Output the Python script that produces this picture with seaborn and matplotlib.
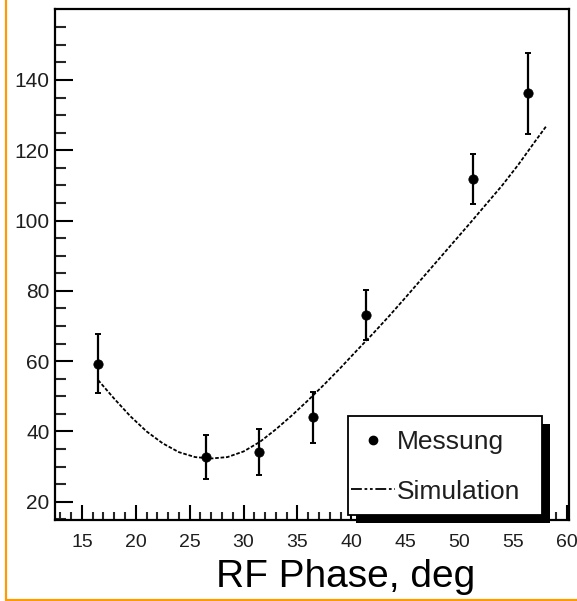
import numpy as np
import pandas as pd
import matplotlib
matplotlib.use("Agg")
import matplotlib.pyplot as plt
from matplotlib.lines import Line2D
from matplotlib.patches import Rectangle
import seaborn as sns

# --- data ---
meas_phase = [16.5, 26.5, 31.4, 36.4, 41.4, 51.3, 56.4]
meas_value = [59.2, 32.7, 34.1, 44.0, 73.1, 111.7, 136.2]
meas_err = [8.4, 6.3, 6.6, 7.2, 7.0, 7.1, 11.6]

sim_phase = [16.5, 18, 19.5, 21, 22.5, 24, 25.5, 27, 28.5, 30, 31.5, 33, 34.5,
             36, 37.5, 39, 40.5, 42, 43.5, 45, 46.5, 48, 49.5, 51, 52.5, 54,
             55.5, 57, 58.1]
sim_value = [54.6, 49.3, 44.3, 40.0, 36.6, 34.1, 32.7, 32.3, 32.7, 34.3, 37.0,
             40.6, 44.6, 48.9, 53.4, 58.1, 63.0, 67.8, 72.8, 78.0, 83.3, 88.6,
             93.9, 99.2, 104.6, 110.0, 115.9, 122.3, 126.9]

x_ticks = [15, 20, 25, 30, 35, 40, 45, 50, 55, 60]
y_ticks = [20, 40, 60, 80, 100, 120, 140]
x_label = "RF Phase, deg"
legend_labels = ["Messung", "Simulation"]

sns.set_theme(style="white")
plt.rcParams['font.family'] = ['Liberation Sans', 'DejaVu Sans']

W, H = 577, 601
fig = plt.figure(figsize=(W / 100, H / 100), dpi=100)
ax = fig.add_axes([55 / W, 1 - 520 / H, (569 - 55) / W, (520 - 9.3) / H])

sim_df = pd.DataFrame({"phase": sim_phase, "value": sim_value})
sns.lineplot(data=sim_df, x="phase", y="value", ax=ax, color="black",
             lw=1.3, linestyle=(0, (2.0, 1.0)), legend=False)

ax.errorbar(meas_phase, meas_value, yerr=meas_err, fmt="none", ecolor="black",
            elinewidth=1.6, capsize=2.5, capthick=1.4, zorder=3)
meas_df = pd.DataFrame({"phase": meas_phase, "value": meas_value})
sns.scatterplot(data=meas_df, x="phase", y="value", ax=ax, color="black", s=45,
                edgecolor="black", zorder=4, legend=False)

ax.set_xlim(12.5, 60.2)
ax.set_ylim(14.8, 160.1)
ax.set_xticks(x_ticks)
ax.set_yticks(y_ticks)
ax.set_xticks(np.arange(13, 61, 1), minor=True)
ax.set_yticks(np.arange(15, 160, 5), minor=True)
ax.set_xlabel("")
ax.set_ylabel("")

for s in ax.spines.values():
    s.set_color("black")
    s.set_linewidth(1.6)

ax.tick_params(axis="y", which="major", direction="in", length=13, width=1.5,
               labelsize=15, pad=4, colors="black", labelcolor="#1e1e1e", left=True)
ax.tick_params(axis="y", which="minor", direction="in", length=8, width=1.5, left=True)
ax.tick_params(axis="x", which="major", direction="in", length=11, width=1.5,
               labelsize=14, pad=10, colors="black", labelcolor="#1e1e1e", bottom=True)
ax.tick_params(axis="x", which="minor", direction="in", length=6, width=1.5, bottom=True)

# legend box with black drop shadow
lx0, lx1, ly0, ly1 = 348, 542, 416, 515
fig.add_artist(Rectangle(((lx0 + 8) / W, 1 - (ly1 + 8) / H), (lx1 - lx0) / W, (ly1 - ly0) / H,
                         transform=fig.transFigure, facecolor="black",
                         edgecolor="none", zorder=8))
fig.add_artist(Rectangle((lx0 / W, 1 - ly1 / H), (lx1 - lx0) / W, (ly1 - ly0) / H,
                         transform=fig.transFigure, facecolor="white",
                         edgecolor="black", lw=1.3, zorder=9))

handles = [Line2D([], [], marker="o", color="black", linestyle="none", markersize=6),
           Line2D([], [], color="black", lw=1.3, linestyle=(0, (6, 1.5, 1.5, 1.5, 1.5, 1.5)))]
leg = fig.legend(handles, legend_labels, loc="center left",
                 bbox_to_anchor=(351 / W, 1 - 467 / H),
                 fontsize=19, frameon=False, handlelength=1.65, handletextpad=0.1,
                 labelspacing=0.95, borderpad=0, borderaxespad=0)
leg.set_zorder(10)
for t in leg.get_texts():
    t.set_color("#1e1e1e")

fig.text(346 / W, 1 - 587 / H, x_label, ha="center", va="baseline",
         fontsize=28, color="black")

# orange frame lines
orange = "#FF9A00"
fig.add_artist(Line2D([5.5 / W, 5.5 / W], [1 - 599.5 / H, 1.0], transform=fig.transFigure,
                      color=orange, lw=1.6))
fig.add_artist(Line2D([5.5 / W, 1.0], [1 - 599.5 / H, 1 - 599.5 / H], transform=fig.transFigure,
                      color=orange, lw=1.6))

fig.savefig("out.png", dpi=100, facecolor="white")
